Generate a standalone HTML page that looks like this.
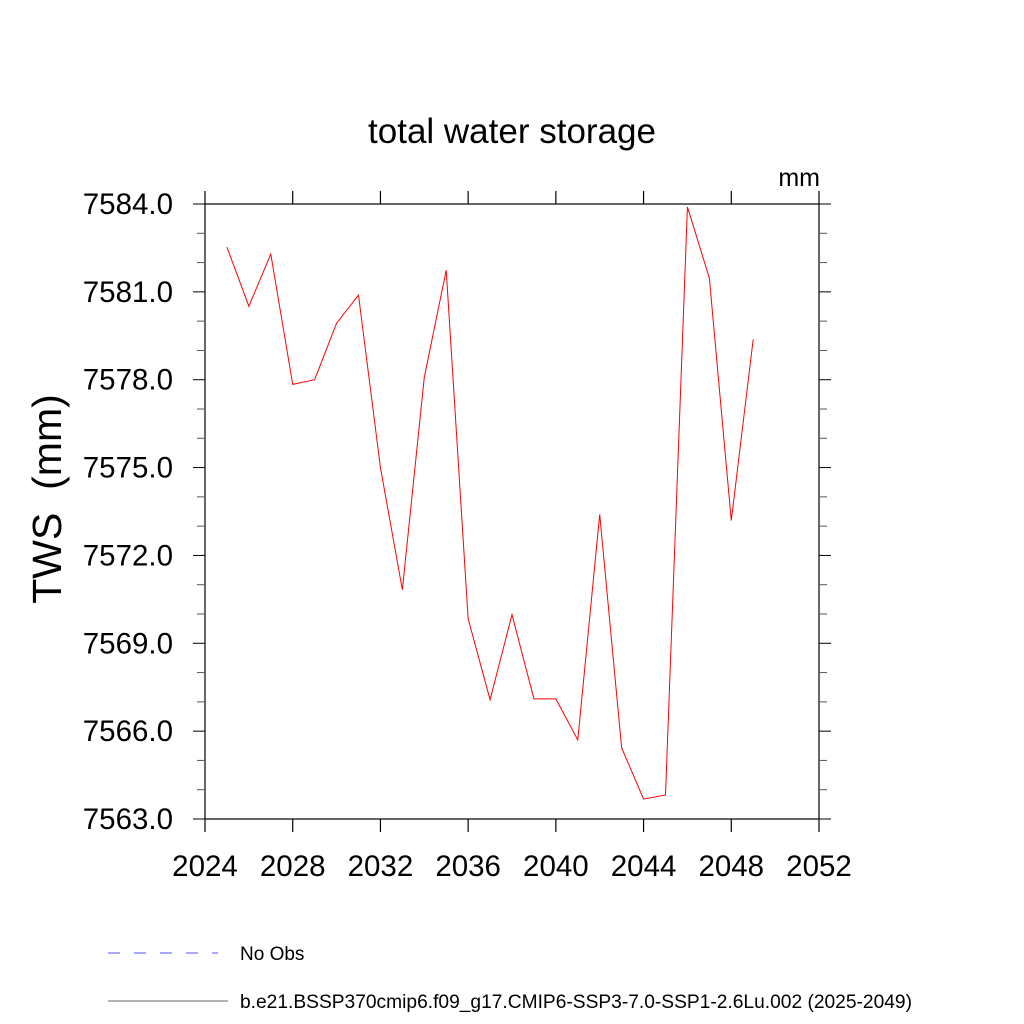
<!DOCTYPE html>
<html><head><meta charset="utf-8"><style>body{margin:0;background:#fff}svg{display:block}text{font-family:"Liberation Sans",sans-serif}</style></head>
<body>
<svg id="c" width="1024" height="1024">
<text x="512" y="143" font-size="35" text-anchor="middle">total water storage</text>
<text x="820" y="186" font-size="25" text-anchor="end">mm</text>
<text transform="translate(61,499) rotate(-90)" font-size="41" text-anchor="middle">TWS&#160;&#160;(mm)</text>
<g id="axes"></g>
<g>
<line x1="108" y1="953" x2="218" y2="953" stroke="#5050ff" stroke-width="1" stroke-dasharray="12,14"/>
<text x="240" y="960" font-size="19">No Obs</text>
<line x1="108" y1="1001" x2="228" y2="1001" stroke="#666" stroke-width="1"/>
<text x="240" y="1008" font-size="19.2">b.e21.BSSP370cmip6.f09_g17.CMIP6-SSP3-7.0-SSP1-2.6Lu.002 (2025-2049)</text>
</g>
</svg>
<script>
const years=[2025,2026,2027,2028,2029,2030,2031,2032,2033,2034,2035,2036,2037,2038,2039,2040,2041,2042,2043,2044,2045,2046,2047,2048,2049];
const tws=[7582.53,7580.51,7582.29,7577.84,7578.0,7579.93,7580.89,7575.0,7570.83,7578.08,7581.74,7569.84,7567.07,7569.98,7567.1,7567.1,7565.7,7573.4,7565.43,7563.68,7563.82,7583.9,7581.47,7573.19,7579.38];
const xTicks=[2024,2028,2032,2036,2040,2044,2048,2052];
const yTicks=[7563,7566,7569,7572,7575,7578,7581,7584];
const L=205,R=819,T=204,B=819,x0=2024,x1=2052,y0=7563,y1=7584;
const sx=v=>L+(v-x0)/(x1-x0)*(R-L), sy=v=>B-(v-y0)/(y1-y0)*(B-T);
const NS='http://www.w3.org/2000/svg', g=document.getElementById('axes');
function mk(t,a){const e=document.createElementNS(NS,t);for(const k in a)e.setAttribute(k,a[k]);g.appendChild(e);return e;}
const box=mk('rect',{x:L,y:T,width:R-L,height:B-T,fill:'none',stroke:'#000','stroke-width':1.2});


xTicks.forEach(v=>{const X=sx(v);
 const t1=mk('line',{x1:X,y1:B,x2:X,y2:B+13,stroke:'#000','stroke-width':1.2});
 
 
 const t2=mk('line',{x1:X,y1:T,x2:X,y2:T-13,stroke:'#000','stroke-width':1.2});
 
 
 const tx=mk('text',{x:X,y:876,'font-size':29.5,'text-anchor':'middle'});tx.textContent=v;
 
 });
for(let v=y0;v<=y1;v++){const Y=sy(v);const maj=yTicks.includes(v);const len=maj?12:8;
 const a=mk('line',{x1:L,y1:Y,x2:L-len,y2:Y,stroke:maj?'#000':'#555','stroke-width':1});
 
 
 const b=mk('line',{x1:R,y1:Y,x2:R+len,y2:Y,stroke:maj?'#000':'#555','stroke-width':1});
 
 }
yTicks.forEach(v=>{const tx=mk('text',{x:173,y:sy(v)+10,'font-size':29.5,'text-anchor':'end'});tx.textContent=v.toFixed(1);
 
 });
const pl=mk('polyline',{points:years.map((y,i)=>sx(y)+','+sy(tws[i])).join(' '),fill:'none',stroke:'#ff0000','stroke-width':1});


</script>
</body></html>
